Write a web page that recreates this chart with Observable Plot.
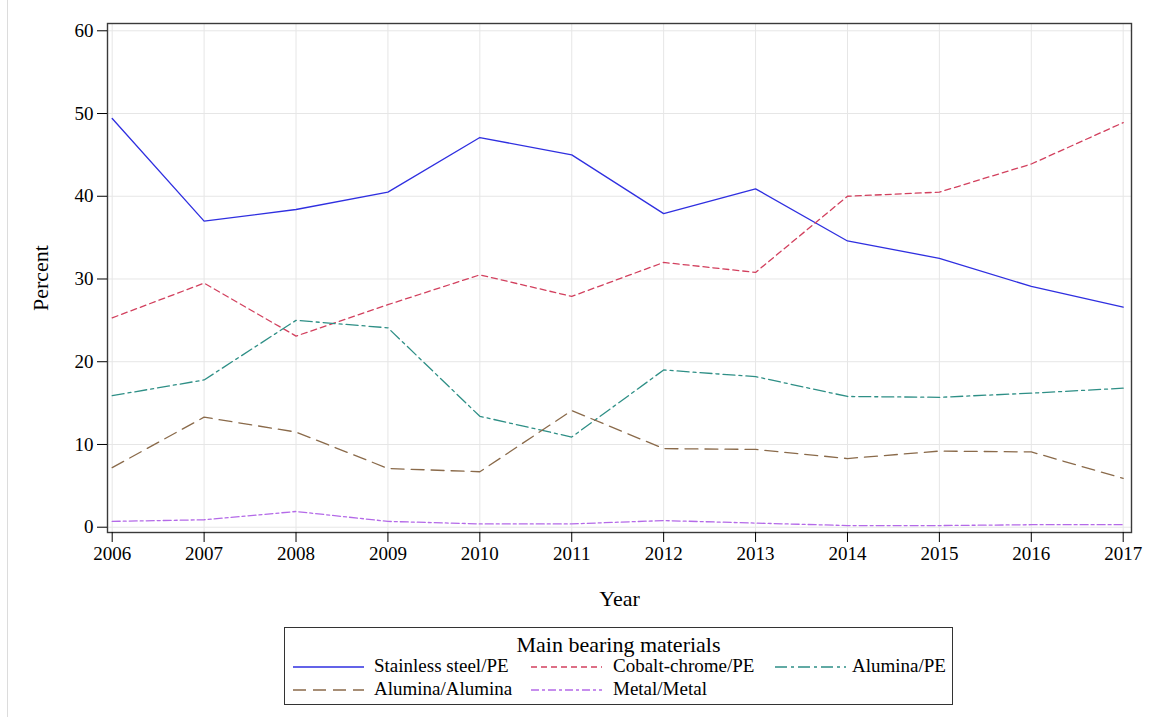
<!DOCTYPE html>
<html>
<head>
<meta charset="utf-8">
<script src="https://cdn.jsdelivr.net/npm/d3@7"></script>
<script src="https://cdn.jsdelivr.net/npm/@observablehq/plot@0.6"></script>
<style>
  body { margin: 0; background: #fff; }
  #wrap { position: relative; width: 1152px; height: 717px; overflow: hidden; font-family: "Liberation Serif", "Times New Roman", serif; }
  #edge { position: absolute; left: 7px; top: 0; width: 1px; height: 717px; background: #dcdcdc; }
  #chart { position: absolute; left: 0; top: 0; }
  #legend { position: absolute; left: 284px; top: 627px; width: 667px; height: 76px; border: 1px solid #333; background: #fff; }
  #legend .ttl { position: absolute; left: 0; width: 100%; top: 4px; text-align: center; font-size: 22px; line-height: 26px; color: #000; }
  #legend .item { position: absolute; font-size: 19px; color: #000; white-space: nowrap; line-height: 22px; }
  #legend svg { position: absolute; }
</style>
</head>
<body>
<div id="wrap">
  <div id="edge"></div>
  <div id="chart"></div>
  <div id="legend"><div class="ttl">Main bearing materials</div></div>
</div>
<script>
const years = [2006, 2007, 2008, 2009, 2010, 2011, 2012, 2013, 2014, 2015, 2016, 2017];
const seriesNames = ["Stainless steel/PE", "Cobalt-chrome/PE", "Alumina/PE", "Alumina/Alumina", "Metal/Metal"];
const stainlessPE   = [49.4, 37.0, 38.4, 40.5, 47.1, 45.0, 37.9, 40.9, 34.6, 32.5, 29.1, 26.6];
const cobaltPE      = [25.3, 29.5, 23.1, 26.9, 30.5, 27.9, 32.0, 30.8, 40.0, 40.5, 43.9, 48.9];
const aluminaPE     = [15.9, 17.8, 25.0, 24.1, 13.4, 10.9, 19.0, 18.2, 15.8, 15.7, 16.2, 16.8];
const aluminaAlumina= [7.2, 13.3, 11.5, 7.1, 6.7, 14.1, 9.5, 9.4, 8.3, 9.2, 9.1, 5.9];
const metalMetal    = [0.7, 0.9, 1.9, 0.7, 0.4, 0.4, 0.8, 0.5, 0.2, 0.2, 0.3, 0.3];
const yTicks = [0, 10, 20, 30, 40, 50, 60];

const seriesValues = [stainlessPE, cobaltPE, aluminaPE, aluminaAlumina, metalMetal];
const colors = ["#2f2fe0", "#d2405e", "#2e8f86", "#8a6a4a", "#b46ae8"];
const dashes = [null, "6,4", "12,4,3,4", "13,7", "8,3,3,3"];

const data = [];
seriesNames.forEach((name, i) => years.forEach((yr, j) => data.push({series: name, year: yr, value: seriesValues[i][j]})));

const W = 1152, H = 620;
const marks = [
  Plot.gridX(years, {stroke: "#e6e6e6", strokeOpacity: 1, strokeWidth: 1}),
  Plot.gridY(yTicks, {stroke: "#e6e6e6", strokeOpacity: 1, strokeWidth: 1}),
  ...seriesNames.map((name, i) => Plot.line(data.filter(d => d.series === name), {
    x: "year", y: "value", stroke: colors[i], strokeWidth: 1.3,
    strokeDasharray: dashes[i] || undefined, curve: "linear"
  })),
  Plot.frame({stroke: "#3a3a3a", strokeWidth: 1.4}),
  Plot.axisX(years, {tickFormat: d => String(d), tickSize: 10, tickPadding: 4, fontSize: 19, label: null, stroke: "#000"}),
  Plot.axisY(yTicks, {tickSize: 10, tickPadding: 4, fontSize: 19, label: null}),
  Plot.text(["Year"], {frameAnchor: "bottom", dy: 66, fontSize: 22, fill: "#000", text: d => d, lineAnchor: "middle"}),
  Plot.text(["Percent"], {frameAnchor: "left", dx: -67, rotate: -90, textAnchor: "middle", fontSize: 22, fill: "#000", text: d => d})
];

const chart = Plot.plot({
  width: W, height: H,
  marginLeft: 107, marginRight: 21, marginTop: 23, marginBottom: H - 532,
  style: {fontFamily: "Liberation Serif, Times New Roman, serif", fontSize: "19px", color: "#000", background: "transparent", overflow: "visible"},
  x: {type: "linear", domain: [2006 - 4.7/91.9, 2017 + 8.3/91.9]},
  y: {domain: [-5.3/8.28, 60 + 7.3/8.28]},
  marks
});
document.getElementById("chart").appendChild(chart);

// Legend
const legend = document.getElementById("legend");
const cols = [{sx: 8, tx: 89}, {sx: 246, tx: 328}, {sx: 490, tx: 567}];
const rowsY = [39, 62];
seriesNames.forEach((name, i) => {
  const c = cols[i % 3], r = rowsY[Math.floor(i / 3)];
  const s = document.createElementNS("http://www.w3.org/2000/svg", "svg");
  s.setAttribute("width", 72); s.setAttribute("height", 6);
  s.style.left = c.sx + "px"; s.style.top = (r - 3) + "px";
  const ln = document.createElementNS("http://www.w3.org/2000/svg", "line");
  ln.setAttribute("x1", 0); ln.setAttribute("x2", 71); ln.setAttribute("y1", 3); ln.setAttribute("y2", 3);
  ln.setAttribute("stroke", colors[i]); ln.setAttribute("stroke-width", 1.5);
  if (dashes[i]) ln.setAttribute("stroke-dasharray", dashes[i]);
  s.appendChild(ln);
  legend.appendChild(s);
  const t = document.createElement("div");
  t.className = "item"; t.textContent = name;
  t.style.left = c.tx + "px"; t.style.top = (r - 12) + "px";
  legend.appendChild(t);
});
</script>
</body>
</html>
